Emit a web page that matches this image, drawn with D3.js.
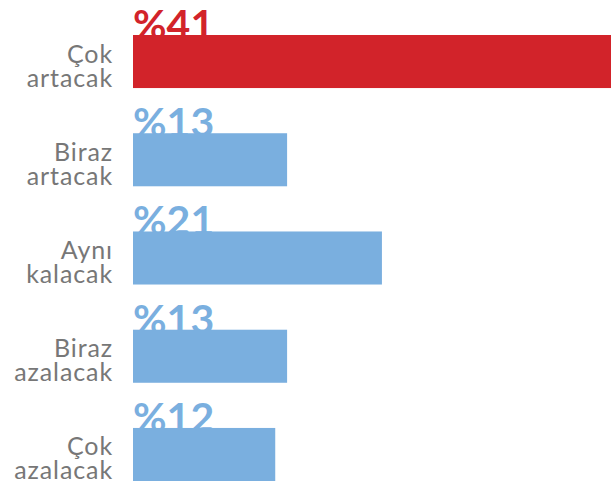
<!DOCTYPE html>
<html>
<head>
<meta charset="utf-8">
<script src="https://cdn.jsdelivr.net/npm/d3@7"></script>
<style>
  html, body { margin: 0; padding: 0; background: #fff; }
  svg { display: block; }
</style>
</head>
<body>
<svg id="chart" width="611" height="489"></svg>
<script>
const categories = [["Çok", "artacak"], ["Biraz", "artacak"], ["Aynı", "kalacak"], ["Biraz", "azalacak"], ["Çok", "azalacak"]];
const values = [41, 13, 21, 13, 12];
const valueLabels = ["%41", "%13", "%21", "%13", "%12"];
const highlight = [true, false, false, false, false];

const RED = "#d2232a", BLUE = "#7aafdf", GRAY = "#777777";
const svg = d3.select("#chart");
const idx = d3.range(values.length);

const x = d3.scaleLinear().domain([0, 41]).range([133, 619]);
const y = d3.scaleBand().domain(idx).range([35, 481]).paddingInner(0.46).paddingOuter(0);

// value labels (drawn first, bars overlap their bottom)
svg.append("g").selectAll("text").data(idx).join("text")
  .attr("x", x(0))
  .attr("y", i => y(i) + 4)
  .attr("fill", i => highlight[i] ? RED : BLUE)
  .attr("font-family", "Lato, 'Noto Sans', sans-serif")
  .attr("font-weight", 700)
  .attr("font-size", 41)
  .text(i => valueLabels[i]);

// bars
svg.append("g").selectAll("rect").data(idx).join("rect")
  .attr("x", x(0))
  .attr("y", i => y(i))
  .attr("width", i => x(values[i]) - x(0))
  .attr("height", y.bandwidth())
  .attr("fill", i => highlight[i] ? RED : BLUE);

// category labels
const lab = svg.append("g").selectAll("text").data(idx).join("text")
  .attr("text-anchor", "end")
  .attr("fill", GRAY)
  .attr("font-family", "Lato, 'Noto Sans', sans-serif")
  .attr("font-weight", 400)
  .attr("font-size", 25)
  .attr("letter-spacing", 0.9);
lab.each(function(i) {
  const t = d3.select(this);
  categories[i].forEach((line, k) => {
    t.append("tspan").attr("x", 113).attr("y", y(i) + y.bandwidth() / 2 + 1 + k * 24).text(line);
  });
});
</script>
</body>
</html>
